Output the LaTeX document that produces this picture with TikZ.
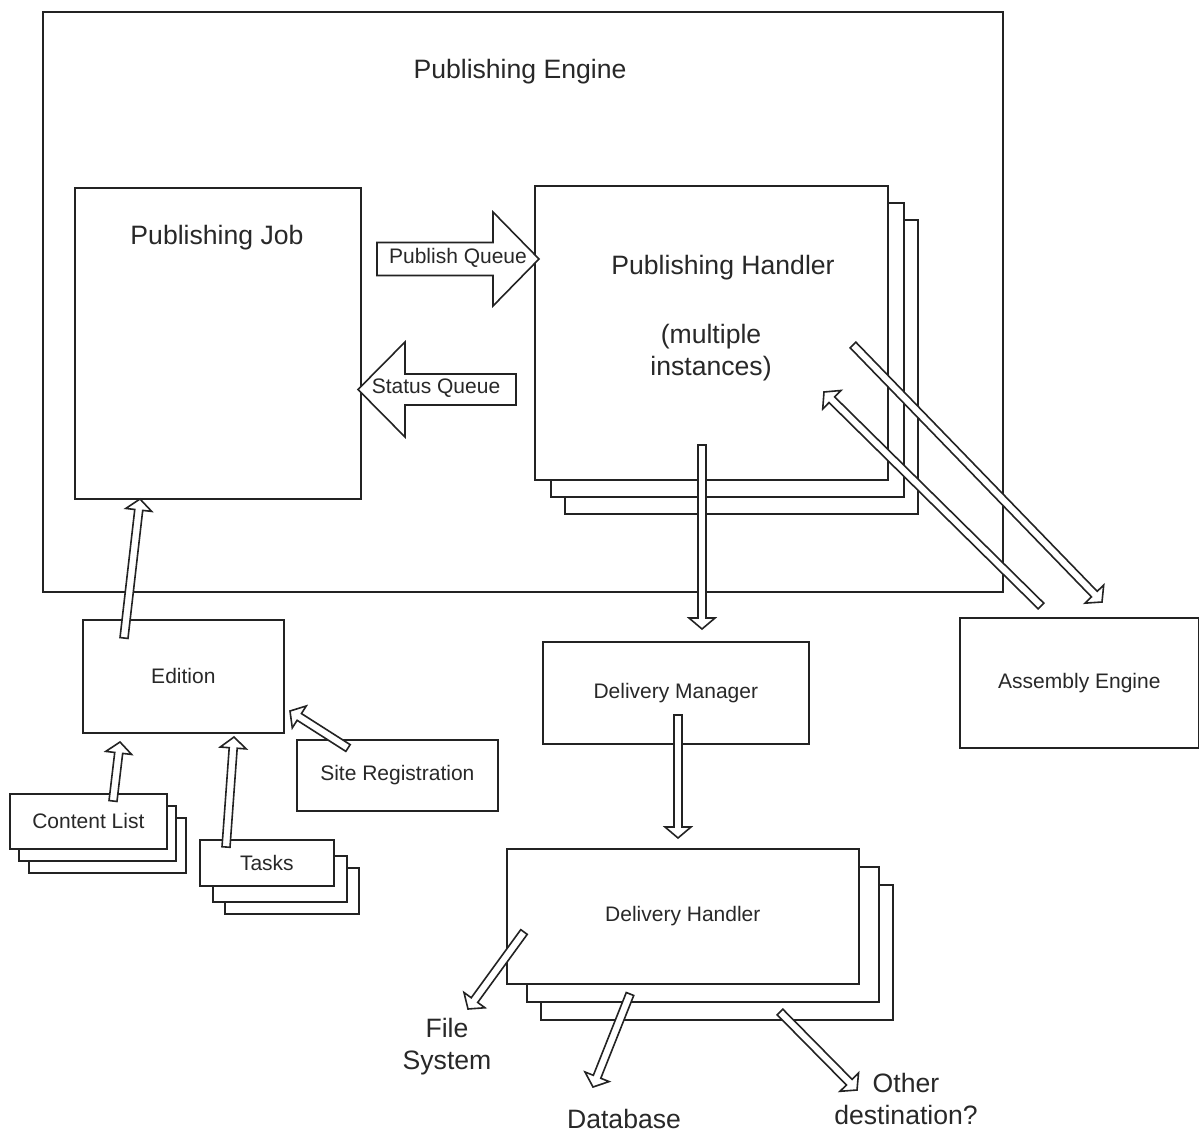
\documentclass[tikz,border=0pt]{standalone}
\usepackage{fontspec}
\setmainfont{Liberation Sans}
\usetikzlibrary{calc,shadows}
\definecolor{linegray}{RGB}{35,35,35}
\definecolor{textgray}{RGB}{40,40,40}
% hollow block arrow: tail, tip, half shaft, half head, head length
\newcommand{\hollowarrow}[5]{%
    \filldraw[arrowline] ($(#1)!#3!90:(#2)$) -- ($(#2)!#5!(#1)!#3!90:(#2)$) -- ($(#2)!#5!(#1)!#4!90:(#2)$)
        -- (#2) -- ($(#2)!#5!(#1)!#4!-90:(#2)$) -- ($(#2)!#5!(#1)!#3!-90:(#2)$) -- ($(#1)!#3!-90:(#2)$) -- cycle;}
\tikzset{
    bigfont/.style={font=\fontsize{13.3}{16}\selectfont,text=textgray},
    smallfont/.style={font=\fontsize{10.5}{12.6}\selectfont,text=textgray},
    box/.style={draw=linegray,line width=.85pt,fill=white,anchor=north west,inner sep=0pt},
    stack/.style n args={4}{
        copy shadow={shadow xshift=#3,shadow yshift=#4,draw=linegray,line width=.85pt,fill=white},
        copy shadow={shadow xshift=#1,shadow yshift=#2,draw=linegray,line width=.85pt,fill=white}},
    arrowline/.style={draw=linegray,fill=white,line width=.8pt,line join=miter},
    thinarrow/.code 2 args={\hollowarrow{#1}{#2}{2pt}{6.5pt}{5.5pt}}
}
\begin{document}
\begin{tikzpicture}[x=.5pt,y=-.5pt]
        \useasboundingbox (0,0) rectangle (1199,1134);

        % Publishing Engine
        \node[box,minimum width=480pt,minimum height=290pt] (engine) at (42,11) {};
        \node[bigfont] (enginetitle) at (520,72) {Publishing Engine};
        \node[box,minimum width=143pt,minimum height=155.5pt] (job) at (74,187) {};
        \node[bigfont] (jobtitle) at (217,238) {Publishing Job};
        \node[box,stack={8pt}{-8.5pt}{15pt}{-17pt},minimum width=176.5pt,minimum height=147pt] (handler) at (534,185) {};
        \node[bigfont] (handlertitle) at (723,268) {Publishing Handler};
        \node[bigfont,align=center] (handlernote) at (711,353) {(multiple\\instances)};

        % queues
        \coordinate (pubtail) at (377,259);
        \coordinate (pubtip) at (539,259);
        \coordinate (stattail) at (516,389.5);
        \coordinate (stattip) at (358,389.5);
        \hollowarrow{pubtail}{pubtip}{8.25pt}{23.5pt}{23pt}
        \hollowarrow{stattail}{stattip}{7.75pt}{23.75pt}{23.5pt}
        \node[smallfont] (pubqueue) at (458,258) {Publish Queue};
        \node[smallfont] (statqueue) at (436,388) {Status Queue};

        % outside the engine
        \node[box,smallfont,minimum width=100.5pt,minimum height=56.5pt] (edition) at (82,619) {Edition};
        \node[box,smallfont,minimum width=100.5pt,minimum height=35.5pt] (siteregistration) at (296,739) {Site Registration};
        \node[box,smallfont,stack={4.5pt}{-6pt}{9.5pt}{-12pt},minimum width=78.5pt,minimum height=27.5pt] (contentlist) at (9,793) {Content List};
        \node[box,smallfont,stack={6.5pt}{-8pt}{12.5pt}{-14pt},minimum width=67pt,minimum height=23pt] (tasks) at (199,839) {Tasks};
        \node[box,smallfont,minimum width=133pt,minimum height=51pt] (manager) at (542,641) {Delivery Manager};
        \node[box,smallfont,minimum width=119.5pt,minimum height=65pt] (assembly) at (959,617) {Assembly Engine};
        \node[box,smallfont,stack={10pt}{-9pt}{17pt}{-18pt},minimum width=176pt,minimum height=67.5pt] (deliveryhandler) at (506,848) {Delivery Handler};

        % destinations
        \node[bigfont,align=center] (filesystem) at (447,1047) {File\\System};
        \node[bigfont] (database) at (624,1119) {Database};
        \node[bigfont,align=center] (otherdest) at (906,1099) {Other\\destination?};

        % arrow ends
        \coordinate (editionout) at (124,638);
        \coordinate (jobin) at (140,499);
        \coordinate (contentout) at (113,801);
        \coordinate (editionin1) at (120,742);
        \coordinate (tasksout) at (226,847);
        \coordinate (editionin2) at (234,737);
        \coordinate (siteout) at (348,748);
        \coordinate (editionin3) at (290,711);
        \coordinate (handlerout1) at (702,445);
        \coordinate (managerin) at (702,629);
        \coordinate (assemblyout) at (1041,606);
        \coordinate (handlerin) at (824,392);
        \coordinate (handlerout2) at (853,345);
        \coordinate (assemblyin) at (1102,602);
        \coordinate (managerout) at (678,715);
        \coordinate (deliveryin) at (678,838);
        \coordinate (deliveryout1) at (524,932);
        \coordinate (filesystemin) at (468,1009);
        \coordinate (deliveryout2) at (630,994);
        \coordinate (databasein) at (593,1087);
        \coordinate (deliveryout3) at (780,1012);
        \coordinate (otherin) at (857,1090);

        % thin arrows
        \tikzset{thinarrow={editionout}{jobin}}
        \tikzset{thinarrow={contentout}{editionin1}}
        \tikzset{thinarrow={tasksout}{editionin2}}
        \tikzset{thinarrow={siteout}{editionin3}}
        \tikzset{thinarrow={handlerout1}{managerin}}
        \tikzset{thinarrow={assemblyout}{handlerin}}
        \tikzset{thinarrow={handlerout2}{assemblyin}}
        \tikzset{thinarrow={managerout}{deliveryin}}
        \tikzset{thinarrow={deliveryout1}{filesystemin}}
        \tikzset{thinarrow={deliveryout2}{databasein}}
        \tikzset{thinarrow={deliveryout3}{otherin}}
\end{tikzpicture}
\end{document}
